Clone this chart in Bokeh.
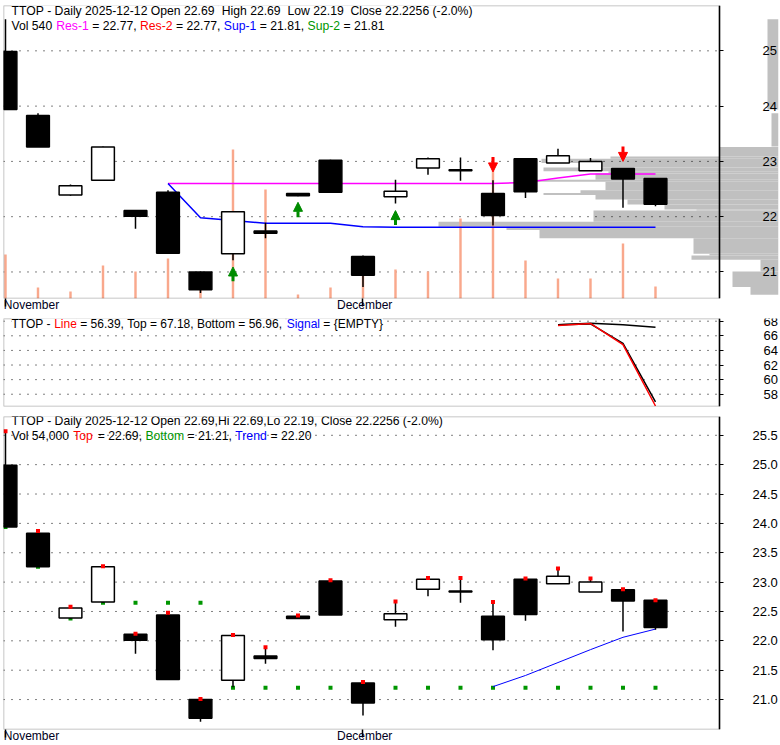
from bokeh.plotting import figure
from bokeh.models import (Range1d, LinearAxis, FixedTicker, BoxAnnotation, Label,
                          Arrow, NormalHead, ColumnDataSource, PrintfTickFormatter)
from bokeh.layouts import column
from bokeh.embed import file_html
from bokeh.resources import INLINE

# ---------------- data ----------------
dates = ["2025-11-13", "2025-11-14", "2025-11-17", "2025-11-18", "2025-11-19", "2025-11-20",
         "2025-11-21", "2025-11-24", "2025-11-25", "2025-11-26", "2025-11-28",
         "2025-12-01", "2025-12-02", "2025-12-03", "2025-12-04", "2025-12-05",
         "2025-12-08", "2025-12-09", "2025-12-10", "2025-12-11", "2025-12-12"]
opens = [24.99, 23.83, 22.39, 22.66, 22.11, 22.44, 21.00, 21.33, 21.74, 22.42, 23.02,
         21.28, 22.36, 22.88, 22.85, 22.42, 23.05, 22.97, 22.83, 22.87, 22.69]
highs = [25.57, 23.87, 22.58, 23.27, 22.12, 22.48, 21.01, 22.10, 21.89, 22.43, 23.03,
         21.30, 22.67, 23.07, 23.07, 22.66, 23.06, 23.23, 23.06, 22.88, 22.69]
lows = [23.94, 23.26, 22.38, 22.65, 21.78, 21.34, 20.62, 21.21, 21.61, 22.37, 22.44,
        20.73, 22.24, 22.76, 22.65, 21.84, 22.34, 22.97, 22.83, 22.16, 22.19]
closes = [23.94, 23.26, 22.56, 23.26, 22.01, 21.34, 20.68, 22.09, 21.70, 22.38, 22.44,
          20.94, 22.46, 23.05, 22.83, 22.02, 22.45, 23.10, 23.00, 22.68, 22.2256]
volumes = [198000, 49500, 31500, 148500, 121500, 180000, 40500, 670500, 490500, 18000, 49500,
           108000, 130500, 121500, 360000, 634500, 171000, 90000, 90000, 247500, 54000]

month_tick_idx = [0, 11]
month_labels = ["November", "December"]

# resistance / support lines (top panel)
res1_idx = list(range(5, 21))
res1_val = [22.60, 22.60, 22.60, 22.60, 22.60, 22.60, 22.60, 22.60, 22.60, 22.60, 22.60, 22.62,
            22.70, 22.77, 22.77, 22.77]
sup1_idx = list(range(5, 21))
sup1_val = [22.60, 21.98, 21.93, 21.88, 21.88, 21.88, 21.82, 21.81, 21.81, 21.81, 21.81, 21.81,
            21.81, 21.81, 21.81, 21.81]

# buy / sell signal arrows (top panel)
buy_idx = [7, 9, 12]
buy_tail = [20.83, 21.99, 21.85]
buy_tip = [21.09, 22.26, 22.11]
sell_idx = [15, 19]
sell_tail = [23.08, 23.27]
sell_tip = [22.81, 23.00]

# volume-at-price profile (top panel)
vp_lo = [23.94, 23.27, 23.09, 23.05, 22.97, 22.89, 22.82, 22.78, 22.67, 22.63, 22.48, 22.43,
         22.39, 22.31, 22.22, 22.13, 22.11, 21.91, 21.82, 21.76, 21.61, 21.33, 21.30, 21.22,
         21.01, 20.73, 20.59]
vp_hi = [25.57, 23.87, 23.26, 23.09, 23.05, 22.97, 22.89, 22.82, 22.78, 22.67, 22.63, 22.48,
         22.43, 22.39, 22.31, 22.22, 22.13, 22.11, 21.91, 21.82, 21.76, 21.61, 21.33, 21.30,
         21.22, 21.01, 20.73]
vp_volume = [11, 7, 59, 168, 237, 177, 235, 170, 183, 242, 173, 198, 235, 183, 151, 114, 82,
             185, 340, 272, 239, 85, 69, 87, 18, 46, 28]

# middle panel
osc_idx = [17, 18, 19, 20]
osc_line = [67.42, 67.70, 64.80, 56.39]
osc_top = [67.50, 67.72, 67.50, 67.18]
osc_bottom = [67.50, 67.62, 64.95, 56.96]

# bottom panel
bottom_lvl = [23.94, 23.26, 22.38, 22.65, 22.65, 22.65, 22.65, 21.20, 21.20, 21.20, 21.20,
              21.20, 21.20, 21.20, 21.20, 21.20, 21.20, 21.20, 21.20, 21.20, 21.20]
trend_idx = [15, 16, 17, 18, 19, 20]
trend_val = [21.22, 21.41, 21.63, 21.85, 22.06, 22.20]

top_ticks = [21, 22, 23, 24, 25]
mid_ticks = [58, 60, 62, 64, 66, 68]
bot_ticks = [21.0, 21.5, 22.0, 22.5, 23.0, 23.5, 24.0, 24.5, 25.0, 25.5]

# ---------------- style helpers ----------------
FONT = "Liberation Sans"
MAGENTA, RED, BLUE, GREEN = "#FF00FF", "#FF0000", "#0000FF", "#009600"
X0, XB, X1 = -0.0615, 21.969, 23.785
VP_SPAN = 775
idx = list(range(len(dates)))

AW = {' ': 278, '(': 333, ')': 333, ',': 278, '-': 333, '.': 278, '=': 584, '%': 889,
      '{': 334, '}': 334, 'A': 667, 'B': 667, 'C': 722, 'D': 722, 'E': 667, 'F': 611,
      'G': 778, 'H': 722, 'I': 278, 'L': 556, 'M': 833, 'N': 722, 'O': 778, 'P': 667,
      'R': 722, 'S': 667, 'T': 611, 'V': 667, 'Y': 667, 'a': 556, 'b': 556, 'c': 500,
      'd': 556, 'e': 556, 'g': 556, 'h': 556, 'i': 222, 'l': 222, 'm': 833, 'n': 556,
      'o': 556, 'p': 556, 'r': 333, 's': 500, 't': 278, 'u': 556, 'v': 500, 'w': 722,
      'y': 500}


def tw(s, size):
    return sum(AW.get(c, 556) for c in s) * size / 1000.0


def base_fig(height, yr, mbt, mbb, xaxis=True):
    p = figure(width=780, height=height, x_range=Range1d(X0, X1), y_range=Range1d(*yr),
               output_backend="svg", toolbar_location=None, y_axis_location=None,
               x_axis_location="below" if xaxis else None,
               min_border_left=3, min_border_right=2, min_border_top=mbt, min_border_bottom=mbb)
    p.outline_line_color = None
    p.grid.visible = False
    return p


def right_axis(p, ticks, standoff, fmt=None):
    ax = LinearAxis(ticker=FixedTicker(ticks=ticks), fixed_location=XB,
                    major_tick_in=0, major_tick_out=4, minor_tick_line_color=None,
                    major_label_standoff=standoff, major_label_text_font=FONT,
                    major_label_text_font_size="13px", major_label_text_color="black",
                    axis_line_width=1.5, major_tick_line_width=1)
    if fmt:
        ax.formatter = PrintfTickFormatter(format=fmt)
    p.add_layout(ax, "right")


def grid(p, ticks):
    p.segment(x0=[X0] * len(ticks), x1=[XB] * len(ticks), y0=ticks, y1=ticks,
              line_color="black", line_dash="1 7", line_width=1)


def frame(p, yr):
    p.add_layout(BoxAnnotation(left=X0, right=XB, bottom=yr[0], top=yr[1], fill_color=None,
                               line_color="black", line_width=1.5))


def runs(p, parts, ytop, x_off, y_off, bg, size=12.2):
    """Place text pieces one after another; each piece holds at most single spaces."""
    x = x_off
    for txt, col in parts:
        p.add_layout(Label(x=X0, y=ytop, x_offset=x, y_offset=y_off,
                           text=txt.replace(" ", "\u00a0"), text_color=col,
                           text_font=FONT, text_font_size="%spx" % size,
                           text_baseline="alphabetic", text_align="left",
                           background_fill_color="white" if bg else None))
        x += tw(txt, size)


def month_axis(p):
    ax = p.xaxis[0]
    ax.ticker = FixedTicker(ticks=month_tick_idx)
    ax.major_label_overrides = {i: "\u00a0" + m for i, m in zip(month_tick_idx, month_labels)}
    ax.axis_line_color = None
    ax.major_tick_in = 0
    ax.major_tick_out = 8
    ax.major_tick_line_width = 1.5
    ax.minor_tick_line_color = None
    ax.major_label_standoff = -9
    ax.major_label_text_align = "left"
    ax.major_label_text_font = FONT
    ax.major_label_text_font_size = "12px"
    ax.major_label_text_color = "#000022"


def candles(p):
    p.segment(x0=idx, x1=idx, y0=lows, y1=highs, line_color="black", line_width=1.5)
    tops = [max(o, c) for o, c in zip(opens, closes)]
    bots = [min(o, c) for o, c in zip(opens, closes)]
    fills = ["white" if c > o else "black" for o, c in zip(opens, closes)]
    p.vbar(x=idx, width=0.7, top=tops, bottom=bots, fill_color=fills,
           line_color="black", line_width=1.5)


# ---------------- top panel ----------------
yr1 = (20.52, 25.82)
p1 = base_fig(314, yr1, 5, 16)
p1.extra_y_ranges = {"vol": Range1d(0, 1318500)}
p1.extra_x_ranges = {"vp": Range1d(VP_SPAN, 0)}
p1.hbar(y=[(a + b) / 2 for a, b in zip(vp_lo, vp_hi)], height=[b - a for a, b in zip(vp_lo, vp_hi)],
        left=0, right=vp_volume, x_range_name="vp", fill_color="#C0C0C0", line_color=None)
grid(p1, top_ticks)
p1.vbar(x=idx, top=volumes, bottom=0, width=0.075, y_range_name="vol",
        fill_color="#F9A88C", line_color=None)
p1.line(res1_idx, res1_val, line_color=MAGENTA, line_width=1.5)
p1.line(sup1_idx, sup1_val, line_color=BLUE, line_width=1.5)
candles(p1)
for xs, y0s, y1s, col in [(buy_idx, buy_tail, buy_tip, "#008C00"),
                          (sell_idx, sell_tail, sell_tip, RED)]:
    src = ColumnDataSource(dict(x=xs, y0=y0s, y1=y1s))
    p1.add_layout(Arrow(end=NormalHead(size=9, fill_color=col, line_color=col, line_width=1),
                        x_start="x", y_start="y0", x_end="x", y_end="y1", source=src,
                        line_color=col, line_width=3))
frame(p1, yr1)
right_axis(p1, top_ticks, 39)
month_axis(p1)
runs(p1, [("TTOP - Daily 2025-12-12 Open 22.69 ", "black"), (" High 22.69 ", "black"),
          (" Low 22.19 ", "black"), (" Close 22.2256 (-2.0%)", "black")],
     yr1[1], 8, -5, True)
runs(p1, [("Vol 540 ", "black"), ("Res-1", MAGENTA), (" = 22.77, ", "black"), ("Res-2", RED),
          (" = 22.77, ", "black"), ("Sup-1", BLUE), (" = 21.81, ", "black"), ("Sup-2", GREEN),
          (" = 21.81", "black")], yr1[1], 8, -20, False)

# ---------------- middle panel ----------------
yr2 = (56.32, 68.37)
p2 = base_fig(98, yr2, 4, 6, xaxis=False)
grid(p2, mid_ticks)
p2.line(osc_idx, osc_top, line_color="black", line_width=1.5)
p2.line(osc_idx, osc_bottom, line_color="black", line_width=1.5)
p2.line(osc_idx, osc_line, line_color=RED, line_width=1.5)
frame(p2, yr2)
right_axis(p2, mid_ticks, 40)
runs(p2, [("TTOP - ", "black"), ("Line", RED), (" = 56.39, Top = 67.18, Bottom = 56.96, ", "black"),
          ("Signal", BLUE), (" = {EMPTY}", "black")], yr2[1], 8, -5.5, True, size=12)

# ---------------- bottom panel ----------------
yr3 = (20.49, 25.82)
p3 = base_fig(333, yr3, 4, 15)
grid(p3, bot_ticks)
p3.scatter(idx, bottom_lvl, marker="square", size=4, fill_color=GREEN, line_color=None)
p3.line(trend_idx, trend_val, line_color=BLUE, line_width=1)
candles(p3)
p3.scatter(idx, highs, marker="square", size=4, fill_color=RED, line_color=None)
frame(p3, yr3)
right_axis(p3, bot_ticks, 29, "%.1f")
month_axis(p3)
runs(p3, [("TTOP - Daily 2025-12-12 Open 22.69,Hi 22.69,Lo 22.19, Close 22.2256 (-2.0%)", "black")],
     yr3[1], 8, -4.5, True)
runs(p3, [("Vol 54,000 ", "black"), ("Top", RED), (" = 22.69, ", "black"), ("Bottom", GREEN),
          (" = 21.21, ", "black"), ("Trend", BLUE), (" = 22.20", "black")], yr3[1], 8, -19.5, False)

layout = column(p1, p2, p3, spacing=0)
open("out.html", "w").write(file_html(layout, INLINE))
